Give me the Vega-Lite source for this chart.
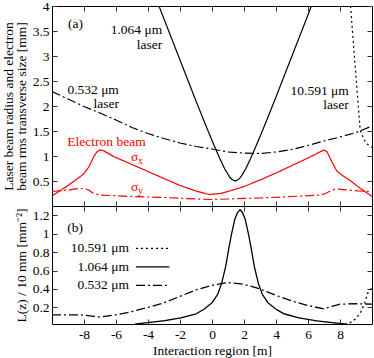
{
  "$schema": "https://vega.github.io/schema/vega-lite/v6.json",
  "padding": {"left": 0, "top": -2, "right": 0, "bottom": 0},
  "bounds": "flush",
  "resolve": {"scale": {"strokeDash": "independent", "color": "independent"}},
  "config": {
    "font": "Liberation Serif",
    "view": {"stroke": "black", "strokeWidth": 1},
    "axis": {"grid": false, "domain": false, "tickSize": -5, "tickColor": "#333", "labelFont": "Liberation Serif", "labelFontSize": 13.5, "labelColor": "black", "titleFont": "Liberation Serif", "titleFontSize": 13.5, "titleFontWeight": "normal", "titleColor": "black", "labelPadding": 8},
    "concat": {"spacing": 0}
  },
  "spacing": 0,
  "datasets": {
    "top": [
      {"s":"l1064","x":-3.8,"v":4.4},{"s":"l1064","x":-3,"v":3.74},{"s":"l1064","x":-2,"v":2.92},{"s":"l1064","x":-1,"v":2.1},{"s":"l1064","x":-0.5,"v":1.7},{"s":"l1064","x":0,"v":1.31},{"s":"l1064","x":0.5,"v":0.94},{"s":"l1064","x":0.8,"v":0.74},{"s":"l1064","x":1.1,"v":0.58},{"s":"l1064","x":1.25,"v":0.53},{"s":"l1064","x":1.45,"v":0.5},{"s":"l1064","x":1.65,"v":0.53},{"s":"l1064","x":1.8,"v":0.58},{"s":"l1064","x":2.1,"v":0.74},{"s":"l1064","x":2.4,"v":0.94},{"s":"l1064","x":2.9,"v":1.31},{"s":"l1064","x":3.4,"v":1.7},{"s":"l1064","x":3.9,"v":2.1},{"s":"l1064","x":4.9,"v":2.92},{"s":"l1064","x":5.9,"v":3.74},{"s":"l1064","x":6.7,"v":4.4},
      {"s":"l532","x":-10,"v":2.29},{"s":"l532","x":-9,"v":2.14},{"s":"l532","x":-8,"v":1.99},{"s":"l532","x":-7,"v":1.86},{"s":"l532","x":-6,"v":1.72},{"s":"l532","x":-5,"v":1.57},{"s":"l532","x":-4,"v":1.45},{"s":"l532","x":-3,"v":1.35},{"s":"l532","x":-2,"v":1.26},{"s":"l532","x":-1,"v":1.19},{"s":"l532","x":0,"v":1.14},{"s":"l532","x":1,"v":1.08},{"s":"l532","x":2,"v":1.06},{"s":"l532","x":3,"v":1.05},{"s":"l532","x":4,"v":1.08},{"s":"l532","x":5,"v":1.13},{"s":"l532","x":6,"v":1.21},{"s":"l532","x":7,"v":1.3},{"s":"l532","x":8,"v":1.38},{"s":"l532","x":9,"v":1.47},{"s":"l532","x":10,"v":1.6},
      {"s":"l10591","x":8.6,"v":4.3},{"s":"l10591","x":8.66,"v":3.99},{"s":"l10591","x":8.96,"v":2.75},{"s":"l10591","x":9.26,"v":1.52},{"s":"l10591","x":9.5,"v":1.33},{"s":"l10591","x":9.7,"v":1.24},{"s":"l10591","x":9.9,"v":1.19},{"s":"l10591","x":10,"v":1.17},
      {"s":"sx","x":-10,"v":0.2},{"s":"sx","x":-9,"v":0.41},{"s":"sx","x":-8.3,"v":0.57},{"s":"sx","x":-8,"v":0.65},{"s":"sx","x":-7.7,"v":0.78},{"s":"sx","x":-7.4,"v":0.98},{"s":"sx","x":-7.2,"v":1.08},{"s":"sx","x":-7,"v":1.12},{"s":"sx","x":-6.8,"v":1.11},{"s":"sx","x":-6.15,"v":0.99},{"s":"sx","x":-5,"v":0.83},{"s":"sx","x":-4,"v":0.69},{"s":"sx","x":-3,"v":0.55},{"s":"sx","x":-2,"v":0.41},{"s":"sx","x":-1,"v":0.3},{"s":"sx","x":-0.2,"v":0.23},{"s":"sx","x":0.5,"v":0.25},{"s":"sx","x":1,"v":0.29},{"s":"sx","x":2,"v":0.39},{"s":"sx","x":3,"v":0.52},{"s":"sx","x":4,"v":0.66},{"s":"sx","x":5,"v":0.81},{"s":"sx","x":6,"v":0.96},{"s":"sx","x":6.8,"v":1.09},{"s":"sx","x":7,"v":1.12},{"s":"sx","x":7.2,"v":1.08},{"s":"sx","x":7.5,"v":0.88},{"s":"sx","x":7.8,"v":0.7},{"s":"sx","x":8.2,"v":0.6},{"s":"sx","x":8.6,"v":0.52},{"s":"sx","x":9.2,"v":0.37},{"s":"sx","x":10,"v":0.19},
      {"s":"sy","x":-10,"v":0.29},{"s":"sy","x":-9,"v":0.32},{"s":"sy","x":-8.3,"v":0.35},{"s":"sy","x":-8,"v":0.35},{"s":"sy","x":-7.7,"v":0.32},{"s":"sy","x":-7.4,"v":0.25},{"s":"sy","x":-7,"v":0.22},{"s":"sy","x":-5,"v":0.19},{"s":"sy","x":-3,"v":0.17},{"s":"sy","x":-1,"v":0.14},{"s":"sy","x":0,"v":0.13},{"s":"sy","x":1,"v":0.14},{"s":"sy","x":3,"v":0.16},{"s":"sy","x":5,"v":0.19},{"s":"sy","x":6.8,"v":0.22},{"s":"sy","x":7.1,"v":0.25},{"s":"sy","x":7.5,"v":0.32},{"s":"sy","x":7.8,"v":0.34},{"s":"sy","x":8.5,"v":0.32},{"s":"sy","x":9.2,"v":0.3},{"s":"sy","x":10,"v":0.29}
    ],
    "topTextR": [
      {"t":"1.064 μm","x":-3.11,"v":3.53},{"t":"laser","x":-3.11,"v":3.23},
      {"t":"0.532 μm","x":-5.82,"v":2.32},{"t":"laser","x":-5.82,"v":2.05},
      {"t":"10.591 μm","x":8.55,"v":2.3},{"t":"laser","x":8.55,"v":2.02}
    ],
    "topTextBlack": [{"t":"(a)","x":-9.0,"v":3.65}],
    "topTextRed": [{"t":"Electron beam","x":-9.04,"v":1.29},{"t":"σ","x":-5.06,"v":0.99},{"t":"σ","x":-5.06,"v":0.39}],
    "topSub": [{"t":"x","x":-5.06,"v":0.99},{"t":"y","x":-5.06,"v":0.39}],
    "bot": [
      {"s":"b1064","x":-4.8,"v":0.02},{"s":"b1064","x":-4,"v":0.035},{"s":"b1064","x":-3,"v":0.055},{"s":"b1064","x":-2,"v":0.085},{"s":"b1064","x":-1,"v":0.13},{"s":"b1064","x":-0.5,"v":0.18},{"s":"b1064","x":0,"v":0.25},{"s":"b1064","x":0.35,"v":0.34},{"s":"b1064","x":0.6,"v":0.46},{"s":"b1064","x":0.85,"v":0.64},{"s":"b1064","x":1.05,"v":0.84},{"s":"b1064","x":1.25,"v":1.02},{"s":"b1064","x":1.43,"v":1.16},{"s":"b1064","x":1.6,"v":1.23},{"s":"b1064","x":1.75,"v":1.26},{"s":"b1064","x":1.9,"v":1.23},{"s":"b1064","x":2.07,"v":1.16},{"s":"b1064","x":2.25,"v":1.02},{"s":"b1064","x":2.45,"v":0.84},{"s":"b1064","x":2.65,"v":0.64},{"s":"b1064","x":2.9,"v":0.46},{"s":"b1064","x":3.15,"v":0.34},{"s":"b1064","x":3.5,"v":0.25},{"s":"b1064","x":4,"v":0.18},{"s":"b1064","x":4.5,"v":0.13},{"s":"b1064","x":5.5,"v":0.085},{"s":"b1064","x":6.5,"v":0.055},{"s":"b1064","x":7.5,"v":0.035},{"s":"b1064","x":8.3,"v":0.02},
      {"s":"b532","x":-10,"v":0.12},{"s":"b532","x":-9,"v":0.12},{"s":"b532","x":-8.2,"v":0.12},{"s":"b532","x":-7.5,"v":0.105},{"s":"b532","x":-7,"v":0.095},{"s":"b532","x":-6,"v":0.12},{"s":"b532","x":-5,"v":0.155},{"s":"b532","x":-4,"v":0.2},{"s":"b532","x":-3,"v":0.25},{"s":"b532","x":-2,"v":0.32},{"s":"b532","x":-1,"v":0.39},{"s":"b532","x":0,"v":0.44},{"s":"b532","x":1,"v":0.47},{"s":"b532","x":2,"v":0.45},{"s":"b532","x":3,"v":0.4},{"s":"b532","x":4,"v":0.33},{"s":"b532","x":5,"v":0.27},{"s":"b532","x":6,"v":0.22},{"s":"b532","x":7,"v":0.185},{"s":"b532","x":7.5,"v":0.21},{"s":"b532","x":8,"v":0.235},{"s":"b532","x":9,"v":0.24},{"s":"b532","x":10,"v":0.235},
      {"s":"b10591","x":8.3,"v":0.02},{"s":"b10591","x":8.7,"v":0.04},{"s":"b10591","x":9.0,"v":0.08},{"s":"b10591","x":9.3,"v":0.15},{"s":"b10591","x":9.55,"v":0.25},{"s":"b10591","x":9.72,"v":0.35},{"s":"b10591","x":9.85,"v":0.39},{"s":"b10591","x":9.95,"v":0.4},{"s":"b10591","x":10,"v":0.4}
    ],
    "legend": [
      {"s":"b10591","t":"10.591 μm","tx":-5.19,"x1":-4.75,"x2":-2.67,"v":0.84},
      {"s":"b1064","t":"1.064 μm","tx":-5.19,"x1":-4.75,"x2":-2.67,"v":0.64},
      {"s":"b532","t":"0.532 μm","tx":-5.19,"x1":-4.75,"x2":-2.67,"v":0.44}
    ],
    "botText": [{"t":"(b)","x":-9.04,"v":1.06}]
  },
  "vconcat": [
    {
      "width": 320, "height": 200,
      "resolve": {"axis": {"x": "independent", "y": "independent"}},
      "layer": [
        {
          "data": {"name": "top"},
          "mark": {"type": "line", "clip": true, "strokeWidth": 1.2},
          "encoding": {
            "x": {"field": "x", "type": "quantitative", "scale": {"domain": [-10, 10], "nice": false}, "axis": {"orient": "bottom", "values": [-8,-6,-4,-2,0,2,4,6,8], "labels": false, "title": null}},
            "y": {"field": "v", "type": "quantitative", "scale": {"domain": [0, 4], "nice": false}, "axis": {"orient": "left", "values": [0.5,1,1.5,2,2.5,3,3.5,4], "labelExpr": "'' + datum.value", "title": ["Laser beam radius and electron", "beam rms transverse size [mm]"], "titleLineHeight": 13}},
            "color": {"field": "s", "type": "nominal", "scale": {"domain": ["l1064","l532","l10591","sx","sy"], "range": ["black","black","black","red","red"]}, "legend": null},
            "strokeDash": {"field": "s", "type": "nominal", "scale": {"domain": ["l1064","l532","l10591","sx","sy"], "range": [[1,0],[9,3,2,3],[2,3],[1,0],[9,3,2,3]]}, "legend": null}
          }
        },
        {
          "data": {"name": "top"},
          "mark": {"type": "point", "opacity": 0, "clip": true, "size": 1},
          "encoding": {
            "x": {"field": "x", "type": "quantitative", "axis": {"orient": "top", "values": [-8,-6,-4,-2,0,2,4,6,8], "labels": false, "title": null}},
            "y": {"field": "v", "type": "quantitative", "axis": {"orient": "right", "values": [0.5,1,1.5,2,2.5,3,3.5,4], "labels": false, "title": null}}
          }
        },
        {
          "data": {"name": "topTextR"},
          "mark": {"type": "text", "align": "right", "baseline": "middle", "font": "Liberation Serif", "fontSize": 13.5, "color": "black"},
          "encoding": {
            "x": {"field": "x", "type": "quantitative", "axis": null},
            "y": {"field": "v", "type": "quantitative", "axis": null},
            "text": {"field": "t"}
          }
        },
        {
          "data": {"name": "topTextBlack"},
          "mark": {"type": "text", "align": "left", "baseline": "middle", "font": "Liberation Serif", "fontSize": 13.5, "color": "black"},
          "encoding": {
            "x": {"field": "x", "type": "quantitative", "axis": null},
            "y": {"field": "v", "type": "quantitative", "axis": null},
            "text": {"field": "t"}
          }
        },
        {
          "data": {"name": "topTextRed"},
          "mark": {"type": "text", "align": "left", "baseline": "middle", "font": "Liberation Serif", "fontSize": 13.5, "color": "red"},
          "encoding": {
            "x": {"field": "x", "type": "quantitative", "axis": null},
            "y": {"field": "v", "type": "quantitative", "axis": null},
            "text": {"field": "t"}
          }
        },
        {
          "data": {"name": "topSub"},
          "mark": {"type": "text", "align": "left", "baseline": "middle", "font": "Liberation Serif", "fontSize": 10, "color": "red", "dx": 7, "dy": 4},
          "encoding": {
            "x": {"field": "x", "type": "quantitative", "axis": null},
            "y": {"field": "v", "type": "quantitative", "axis": null},
            "text": {"field": "t"}
          }
        }
      ]
    },
    {
      "width": 320, "height": 118,
      "resolve": {"axis": {"x": "independent", "y": "independent"}},
      "layer": [
        {
          "data": {"name": "bot"},
          "mark": {"type": "line", "clip": true, "strokeWidth": 1.3},
          "encoding": {
            "x": {"field": "x", "type": "quantitative", "scale": {"domain": [-10, 10], "nice": false}, "axis": {"orient": "bottom", "values": [-8,-6,-4,-2,0,2,4,6,8], "labelExpr": "'' + datum.value", "title": "Interaction region [m]", "titlePadding": 3}},
            "y": {"field": "v", "type": "quantitative", "scale": {"domain": [0.02, 1.3], "nice": false}, "axis": {"orient": "left", "values": [0.2,0.4,0.6,0.8,1,1.2], "labelExpr": "'' + datum.value", "title": "L(z) / 10 mm  [mm⁻²]"}},
            "color": {"value": "black"},
            "strokeDash": {"field": "s", "type": "nominal", "scale": {"domain": ["b10591","b1064","b532"], "range": [[2,3],[1,0],[9,3,2,3]]}, "legend": null}
          }
        },
        {
          "data": {"name": "bot"},
          "mark": {"type": "point", "opacity": 0, "clip": true, "size": 1},
          "encoding": {
            "x": {"field": "x", "type": "quantitative", "axis": {"orient": "top", "values": [-8,-6,-4,-2,0,2,4,6,8], "labels": false, "title": null}},
            "y": {"field": "v", "type": "quantitative", "axis": {"orient": "right", "values": [0.2,0.4,0.6,0.8,1,1.2], "labels": false, "title": null}}
          }
        },
        {
          "data": {"name": "legend"},
          "mark": {"type": "rule", "strokeWidth": 1.3, "color": "black"},
          "encoding": {
            "x": {"field": "x1", "type": "quantitative", "axis": null},
            "x2": {"field": "x2"},
            "y": {"field": "v", "type": "quantitative", "axis": null},
            "strokeDash": {"field": "s", "type": "nominal", "scale": {"domain": ["b10591","b1064","b532"], "range": [[2,3],[1,0],[9,3,2,3]]}, "legend": null}
          }
        },
        {
          "data": {"name": "legend"},
          "mark": {"type": "text", "align": "right", "baseline": "middle", "font": "Liberation Serif", "fontSize": 13.5, "color": "black"},
          "encoding": {
            "x": {"field": "tx", "type": "quantitative", "axis": null},
            "y": {"field": "v", "type": "quantitative", "axis": null},
            "text": {"field": "t"}
          }
        },
        {
          "data": {"name": "botText"},
          "mark": {"type": "text", "align": "left", "baseline": "middle", "font": "Liberation Serif", "fontSize": 13.5, "color": "black"},
          "encoding": {
            "x": {"field": "x", "type": "quantitative", "axis": null},
            "y": {"field": "v", "type": "quantitative", "axis": null},
            "text": {"field": "t"}
          }
        }
      ]
    }
  ]
}
